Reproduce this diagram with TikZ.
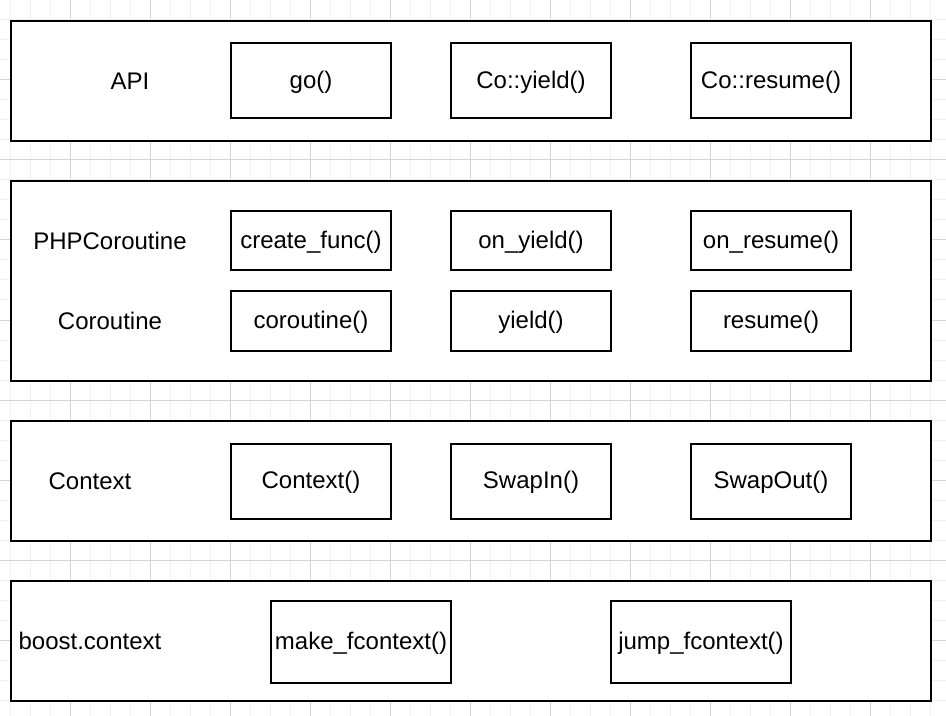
\documentclass[tikz,border=0pt]{standalone}
\usepackage{fontspec}
\setmainfont{Liberation Sans}
\usetikzlibrary{positioning}

\begin{document}
\begin{tikzpicture}[x=0.5pt, y=-0.5pt, font=\fontsize{12}{14}\selectfont,
		minor/.style={draw=black!6, line width=0.5pt},
		major/.style={draw=black!17, line width=0.5pt},
		layer/.style={draw, line width=1pt, fill=white, minimum width=460pt, inner sep=0pt},
		func/.style={draw, line width=1pt, fill=white, minimum width=80pt, inner sep=0pt,
			text height=0.72em, text depth=0pt}]
	\useasboundingbox (0,0) rectangle (946,716);
	
	% Grid background
	\foreach \x in {10,30,...,950} {
		\draw[minor] (\x,0) -- (\x,716);
	}
	\foreach \y in {0,20,...,716} {
		\draw[minor] (0,\y) -- (946,\y);
	}
	\foreach \x in {70,150,...,950} {
		\draw[major] (\x,0) -- (\x,716);
	}
	\foreach \y in {0,80,...,716} {
		\draw[major] (0,\y) -- (946,\y);
	}
	
	% Layers
	\node[layer, minimum height=60pt] (apilayer) at (471,81) {};
	\node[layer, minimum height=100pt] (corolayer) at (471,281) {};
	\node[layer, minimum height=60pt] (ctxlayer) at (471,481) {};
	\node[layer, minimum height=60pt] (boostlayer) at (471,641) {};
	
	% API
	\node (api) at (130,81) {API};
	\node[func, minimum height=37.5pt] (go) at (311,81) {go()};
	\node[func, minimum height=37.5pt] (coyield) at (531,81) {Co::yield()};
	\node[func, minimum height=37.5pt] (coresume) at (771,81) {Co::resume()};
	
	% PHPCoroutine / Coroutine
	\node (phpcoro) at (110,241) {PHPCoroutine};
	\node[func, minimum height=29.5pt] (createfunc) at (311,241) {create\_func()};
	\node[func, minimum height=29.5pt] (onyield) at (531,241) {on\_yield()};
	\node[func, minimum height=29.5pt] (onresume) at (771,241) {on\_resume()};
	\node (coro) at (110,321) {Coroutine};
	\node[func, minimum height=29.5pt] (coroutine) at (311,321) {coroutine()};
	\node[func, minimum height=29.5pt] (yield) at (531,321) {yield()};
	\node[func, minimum height=29.5pt] (resume) at (771,321) {resume()};
	
	% Context
	\node (ctx) at (90,481) {Context};
	\node[func, minimum height=37.5pt] (context) at (311,481) {Context()};
	\node[func, minimum height=37.5pt] (swapin) at (531,481) {SwapIn()};
	\node[func, minimum height=37.5pt] (swapout) at (771,481) {SwapOut()};
	
	% boost.context
	\node (boost) at (90,641) {boost.context};
	\node[func, minimum width=90pt, minimum height=41pt] (makefctx) at (361,642) {make\_fcontext()};
	\node[func, minimum width=90pt, minimum height=41pt] (jumpfctx) at (701,642) {jump\_fcontext()};
\end{tikzpicture}
\end{document}
